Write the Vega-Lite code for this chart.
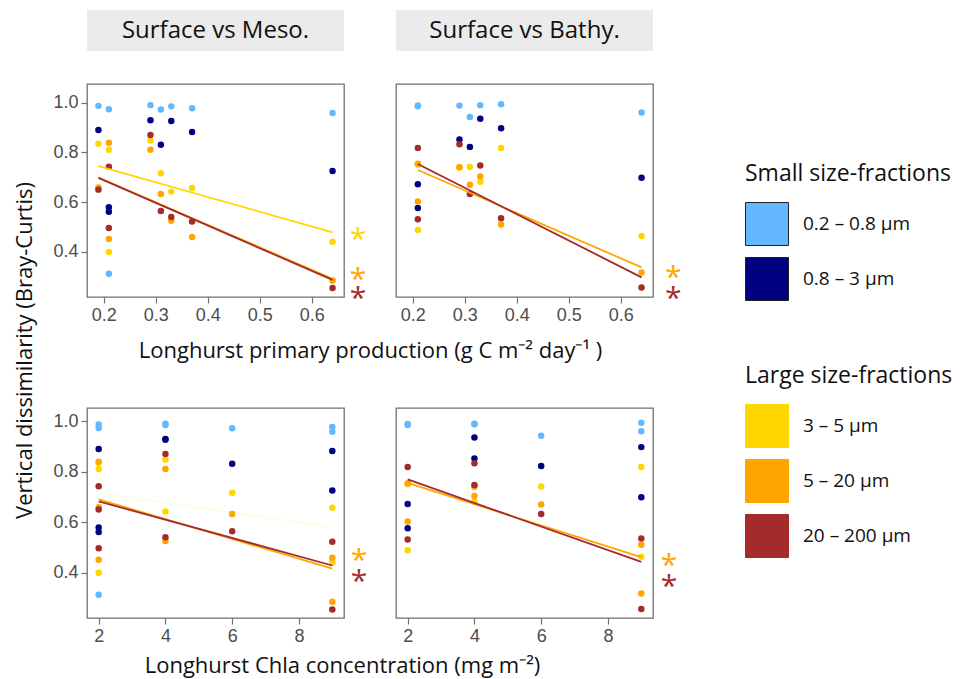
{
  "$schema": "https://vega.github.io/schema/vega-lite/v6.json",
  "padding": {"left": 12, "top": 10, "right": 5, "bottom": 5},
  "background": "white",
  "datasets": {
    "meso": [
      {"pp": 0.19, "chla": 2, "frac": "0.2 – 0.8 µm", "grp": "S", "v": 0.987},
      {"pp": 0.21, "chla": 2, "frac": "0.2 – 0.8 µm", "grp": "S", "v": 0.973},
      {"pp": 0.21, "chla": 2, "frac": "0.2 – 0.8 µm", "grp": "S", "v": 0.312},
      {"pp": 0.29, "chla": 4, "frac": "0.2 – 0.8 µm", "grp": "S", "v": 0.99},
      {"pp": 0.31, "chla": 6, "frac": "0.2 – 0.8 µm", "grp": "S", "v": 0.972},
      {"pp": 0.33, "chla": 4, "frac": "0.2 – 0.8 µm", "grp": "S", "v": 0.985},
      {"pp": 0.37, "chla": 9, "frac": "0.2 – 0.8 µm", "grp": "S", "v": 0.977},
      {"pp": 0.64, "chla": 9, "frac": "0.2 – 0.8 µm", "grp": "S", "v": 0.958},
      {"pp": 0.19, "chla": 2, "frac": "0.8 – 3 µm", "grp": "S", "v": 0.89},
      {"pp": 0.21, "chla": 2, "frac": "0.8 – 3 µm", "grp": "S", "v": 0.579},
      {"pp": 0.21, "chla": 2, "frac": "0.8 – 3 µm", "grp": "S", "v": 0.561},
      {"pp": 0.29, "chla": 4, "frac": "0.8 – 3 µm", "grp": "S", "v": 0.929},
      {"pp": 0.31, "chla": 6, "frac": "0.8 – 3 µm", "grp": "S", "v": 0.831},
      {"pp": 0.33, "chla": 4, "frac": "0.8 – 3 µm", "grp": "S", "v": 0.926},
      {"pp": 0.37, "chla": 9, "frac": "0.8 – 3 µm", "grp": "S", "v": 0.882},
      {"pp": 0.64, "chla": 9, "frac": "0.8 – 3 µm", "grp": "S", "v": 0.725},
      {"pp": 0.19, "chla": 2, "frac": "3 – 5 µm", "grp": "L", "v": 0.835},
      {"pp": 0.21, "chla": 2, "frac": "3 – 5 µm", "grp": "L", "v": 0.81},
      {"pp": 0.21, "chla": 2, "frac": "3 – 5 µm", "grp": "L", "v": 0.399},
      {"pp": 0.29, "chla": 4, "frac": "3 – 5 µm", "grp": "L", "v": 0.848},
      {"pp": 0.31, "chla": 6, "frac": "3 – 5 µm", "grp": "L", "v": 0.716},
      {"pp": 0.33, "chla": 4, "frac": "3 – 5 µm", "grp": "L", "v": 0.642},
      {"pp": 0.37, "chla": 9, "frac": "3 – 5 µm", "grp": "L", "v": 0.657},
      {"pp": 0.64, "chla": 9, "frac": "3 – 5 µm", "grp": "L", "v": 0.44},
      {"pp": 0.19, "chla": 2, "frac": "5 – 20 µm", "grp": "L", "v": 0.659},
      {"pp": 0.21, "chla": 2, "frac": "5 – 20 µm", "grp": "L", "v": 0.839},
      {"pp": 0.21, "chla": 2, "frac": "5 – 20 µm", "grp": "L", "v": 0.451},
      {"pp": 0.29, "chla": 4, "frac": "5 – 20 µm", "grp": "L", "v": 0.81},
      {"pp": 0.31, "chla": 6, "frac": "5 – 20 µm", "grp": "L", "v": 0.632},
      {"pp": 0.33, "chla": 4, "frac": "5 – 20 µm", "grp": "L", "v": 0.525},
      {"pp": 0.37, "chla": 9, "frac": "5 – 20 µm", "grp": "L", "v": 0.459},
      {"pp": 0.64, "chla": 9, "frac": "5 – 20 µm", "grp": "L", "v": 0.284},
      {"pp": 0.19, "chla": 2, "frac": "20 – 200 µm", "grp": "L", "v": 0.65},
      {"pp": 0.21, "chla": 2, "frac": "20 – 200 µm", "grp": "L", "v": 0.742},
      {"pp": 0.21, "chla": 2, "frac": "20 – 200 µm", "grp": "L", "v": 0.496},
      {"pp": 0.29, "chla": 4, "frac": "20 – 200 µm", "grp": "L", "v": 0.87},
      {"pp": 0.31, "chla": 6, "frac": "20 – 200 µm", "grp": "L", "v": 0.564},
      {"pp": 0.33, "chla": 4, "frac": "20 – 200 µm", "grp": "L", "v": 0.54},
      {"pp": 0.37, "chla": 9, "frac": "20 – 200 µm", "grp": "L", "v": 0.522},
      {"pp": 0.64, "chla": 9, "frac": "20 – 200 µm", "grp": "L", "v": 0.254}
    ],
    "bathy": [
      {"pp": 0.21, "chla": 2, "frac": "0.2 – 0.8 µm", "grp": "S", "v": 0.989},
      {"pp": 0.21, "chla": 2, "frac": "0.2 – 0.8 µm", "grp": "S", "v": 0.985},
      {"pp": 0.29, "chla": 4, "frac": "0.2 – 0.8 µm", "grp": "S", "v": 0.988},
      {"pp": 0.31, "chla": 6, "frac": "0.2 – 0.8 µm", "grp": "S", "v": 0.942},
      {"pp": 0.33, "chla": 4, "frac": "0.2 – 0.8 µm", "grp": "S", "v": 0.99},
      {"pp": 0.37, "chla": 9, "frac": "0.2 – 0.8 µm", "grp": "S", "v": 0.994},
      {"pp": 0.64, "chla": 9, "frac": "0.2 – 0.8 µm", "grp": "S", "v": 0.96},
      {"pp": 0.21, "chla": 2, "frac": "0.8 – 3 µm", "grp": "S", "v": 0.672},
      {"pp": 0.21, "chla": 2, "frac": "0.8 – 3 µm", "grp": "S", "v": 0.576},
      {"pp": 0.29, "chla": 4, "frac": "0.8 – 3 µm", "grp": "S", "v": 0.852},
      {"pp": 0.31, "chla": 6, "frac": "0.8 – 3 µm", "grp": "S", "v": 0.822},
      {"pp": 0.33, "chla": 4, "frac": "0.8 – 3 µm", "grp": "S", "v": 0.935},
      {"pp": 0.37, "chla": 9, "frac": "0.8 – 3 µm", "grp": "S", "v": 0.897},
      {"pp": 0.64, "chla": 9, "frac": "0.8 – 3 µm", "grp": "S", "v": 0.698},
      {"pp": 0.21, "chla": 2, "frac": "3 – 5 µm", "grp": "L", "v": 0.488},
      {"pp": 0.21, "chla": 2, "frac": "3 – 5 µm", "grp": "L", "v": 0.75},
      {"pp": 0.29, "chla": 4, "frac": "3 – 5 µm", "grp": "L", "v": 0.74},
      {"pp": 0.31, "chla": 6, "frac": "3 – 5 µm", "grp": "L", "v": 0.741},
      {"pp": 0.33, "chla": 4, "frac": "3 – 5 µm", "grp": "L", "v": 0.682},
      {"pp": 0.37, "chla": 9, "frac": "3 – 5 µm", "grp": "L", "v": 0.818},
      {"pp": 0.64, "chla": 9, "frac": "3 – 5 µm", "grp": "L", "v": 0.463},
      {"pp": 0.21, "chla": 2, "frac": "5 – 20 µm", "grp": "L", "v": 0.754},
      {"pp": 0.21, "chla": 2, "frac": "5 – 20 µm", "grp": "L", "v": 0.602},
      {"pp": 0.29, "chla": 4, "frac": "5 – 20 µm", "grp": "L", "v": 0.74},
      {"pp": 0.31, "chla": 6, "frac": "5 – 20 µm", "grp": "L", "v": 0.67},
      {"pp": 0.33, "chla": 4, "frac": "5 – 20 µm", "grp": "L", "v": 0.703},
      {"pp": 0.37, "chla": 9, "frac": "5 – 20 µm", "grp": "L", "v": 0.51},
      {"pp": 0.64, "chla": 9, "frac": "5 – 20 µm", "grp": "L", "v": 0.317},
      {"pp": 0.21, "chla": 2, "frac": "20 – 200 µm", "grp": "L", "v": 0.818},
      {"pp": 0.21, "chla": 2, "frac": "20 – 200 µm", "grp": "L", "v": 0.531},
      {"pp": 0.29, "chla": 4, "frac": "20 – 200 µm", "grp": "L", "v": 0.833},
      {"pp": 0.31, "chla": 6, "frac": "20 – 200 µm", "grp": "L", "v": 0.632},
      {"pp": 0.33, "chla": 4, "frac": "20 – 200 µm", "grp": "L", "v": 0.747},
      {"pp": 0.37, "chla": 9, "frac": "20 – 200 µm", "grp": "L", "v": 0.535},
      {"pp": 0.64, "chla": 9, "frac": "20 – 200 µm", "grp": "L", "v": 0.256}
    ],
    "fits": [
      {"panel": "TL", "frac": "3 – 5 µm", "sig": "yes", "pp": 0.19, "v": 0.745},
      {"panel": "TL", "frac": "3 – 5 µm", "sig": "yes", "pp": 0.64, "v": 0.478},
      {"panel": "TL", "frac": "5 – 20 µm", "sig": "yes", "pp": 0.19, "v": 0.699},
      {"panel": "TL", "frac": "5 – 20 µm", "sig": "yes", "pp": 0.64, "v": 0.291},
      {"panel": "TL", "frac": "20 – 200 µm", "sig": "yes", "pp": 0.19, "v": 0.697},
      {"panel": "TL", "frac": "20 – 200 µm", "sig": "yes", "pp": 0.64, "v": 0.287},
      {"panel": "TR", "frac": "5 – 20 µm", "sig": "yes", "pp": 0.21, "v": 0.729},
      {"panel": "TR", "frac": "5 – 20 µm", "sig": "yes", "pp": 0.64, "v": 0.337},
      {"panel": "TR", "frac": "20 – 200 µm", "sig": "yes", "pp": 0.21, "v": 0.753},
      {"panel": "TR", "frac": "20 – 200 µm", "sig": "yes", "pp": 0.64, "v": 0.297},
      {"panel": "BL", "frac": "3 – 5 µm", "sig": "no", "chla": 2, "v": 0.715},
      {"panel": "BL", "frac": "3 – 5 µm", "sig": "no", "chla": 9, "v": 0.58},
      {"panel": "BL", "frac": "5 – 20 µm", "sig": "yes", "chla": 2, "v": 0.69},
      {"panel": "BL", "frac": "5 – 20 µm", "sig": "yes", "chla": 9, "v": 0.416},
      {"panel": "BL", "frac": "20 – 200 µm", "sig": "yes", "chla": 2, "v": 0.682},
      {"panel": "BL", "frac": "20 – 200 µm", "sig": "yes", "chla": 9, "v": 0.428},
      {"panel": "BR", "frac": "5 – 20 µm", "sig": "yes", "chla": 2, "v": 0.755},
      {"panel": "BR", "frac": "5 – 20 µm", "sig": "yes", "chla": 9, "v": 0.461},
      {"panel": "BR", "frac": "20 – 200 µm", "sig": "yes", "chla": 2, "v": 0.769},
      {"panel": "BR", "frac": "20 – 200 µm", "sig": "yes", "chla": 9, "v": 0.442}
    ],
    "stars": [
      {"panel": "TL", "frac": "3 – 5 µm", "pp": 0.689, "v": 0.472},
      {"panel": "TL", "frac": "5 – 20 µm", "pp": 0.689, "v": 0.311},
      {"panel": "TL", "frac": "20 – 200 µm", "pp": 0.689, "v": 0.234},
      {"panel": "TR", "frac": "5 – 20 µm", "pp": 0.701, "v": 0.318},
      {"panel": "TR", "frac": "20 – 200 µm", "pp": 0.701, "v": 0.233},
      {"panel": "BL", "frac": "5 – 20 µm", "chla": 9.8, "v": 0.47},
      {"panel": "BL", "frac": "20 – 200 µm", "chla": 9.8, "v": 0.388},
      {"panel": "BR", "frac": "5 – 20 µm", "chla": 9.83, "v": 0.45},
      {"panel": "BR", "frac": "20 – 200 µm", "chla": 9.83, "v": 0.368}
    ]
  },
  "bounds": "flush",
  "columns": 2,
  "spacing": {"row": 33, "column": 52},
  "concat": [
    {
      "width": 257, "height": 41,
      "view": {"fill": "#EBEBEB", "stroke": null},
      "data": {"values": [{"label": "Surface vs Meso."}]},
      "mark": {"type": "text", "font": "Open Sans", "fontSize": 24, "color": "#111111"},
      "encoding": {"text": {"field": "label"}}
    },
    {
      "width": 257, "height": 41,
      "view": {"fill": "#EBEBEB", "stroke": null},
      "data": {"values": [{"label": "Surface vs Bathy."}]},
      "mark": {"type": "text", "font": "Open Sans", "fontSize": 24, "color": "#111111"},
      "encoding": {"text": {"field": "label"}}
    },
    {
      "width": 257, "height": 213,
      "layer": [
        {
          "data": {"name": "meso"},
          "transform": [{"filter": "datum.grp == 'S'"}],
          "mark": {"type": "circle", "size": 42, "opacity": 1},
          "encoding": {
            "x": {"field": "pp", "type": "quantitative", "scale": {"domain": [0.168, 0.662], "nice": false, "zero": false}, "axis": {"values": [0.2, 0.3, 0.4, 0.5, 0.6], "format": ".1f", "title": "Longhurst primary production (g C m⁻² day⁻¹ )", "titleX": 283, "titleY": 60, "titleBaseline": "alphabetic"}},
            "y": {"field": "v", "type": "quantitative", "scale": {"domain": [0.218, 1.075], "nice": false, "zero": false}, "axis": {"values": [0.4, 0.6, 0.8, 1.0], "format": ".1f", "title": "Vertical dissimilarity (Bray-Curtis)", "titleX": -51, "titleY": 266}},
            "color": {"field": "frac", "type": "nominal", "scale": {"domain": ["0.2 – 0.8 µm", "0.8 – 3 µm"], "range": ["#63B8FF", "#000080"]}, "legend": {"title": "Small size-fractions", "orient": "none", "legendX": 658, "legendY": 153}}
          }
        },
        {
          "data": {"name": "meso"},
          "transform": [{"filter": "datum.grp == 'L'"}],
          "mark": {"type": "circle", "size": 42, "opacity": 1},
          "encoding": {
            "x": {"field": "pp", "type": "quantitative"},
            "y": {"field": "v", "type": "quantitative"},
            "fill": {"field": "frac", "type": "nominal", "scale": {"domain": ["3 – 5 µm", "5 – 20 µm", "20 – 200 µm"], "range": ["#FFD700", "#FFA500", "#A52A2A"]}, "legend": {"title": "Large size-fractions", "orient": "none", "legendX": 658, "legendY": 355}}
          }
        },
        {
          "data": {"name": "fits"},
          "transform": [{"filter": "datum.panel == 'TL'"}],
          "mark": {"type": "line", "strokeWidth": 1.8},
          "encoding": {
            "x": {"field": "pp", "type": "quantitative"},
            "y": {"field": "v", "type": "quantitative"},
            "stroke": {"field": "frac", "type": "nominal", "scale": {"domain": ["3 – 5 µm", "5 – 20 µm", "20 – 200 µm"], "range": ["#FFD700", "#FFA500", "#A52A2A"]}, "legend": null},
            "opacity": {"field": "sig", "type": "nominal", "scale": {"domain": ["no", "yes"], "range": [0.1, 1]}, "legend": null}
          }
        },
        {
          "data": {"name": "stars"},
          "transform": [{"filter": "datum.panel == 'TL'"}],
          "mark": {"type": "text", "text": "*", "font": "Open Sans", "fontSize": 30, "baseline": "alphabetic", "dy": 15},
          "encoding": {
            "x": {"field": "pp", "type": "quantitative"},
            "y": {"field": "v", "type": "quantitative"},
            "fill": {"field": "frac", "type": "nominal", "scale": {"domain": ["3 – 5 µm", "5 – 20 µm", "20 – 200 µm"], "range": ["#FFD700", "#FFA500", "#A52A2A"]}, "legend": {"title": "Large size-fractions", "orient": "none", "legendX": 658, "legendY": 355}}
          }
        }
      ]
    },
    {
      "width": 257, "height": 213,
      "layer": [
        {
          "data": {"name": "bathy"},
          "transform": [{"filter": "datum.grp == 'S'"}],
          "mark": {"type": "circle", "size": 42, "opacity": 1},
          "encoding": {
            "x": {"field": "pp", "type": "quantitative", "scale": {"domain": [0.168, 0.662], "nice": false, "zero": false}, "axis": {"values": [0.2, 0.3, 0.4, 0.5, 0.6], "format": ".1f", "title": null}},
            "y": {"field": "v", "type": "quantitative", "scale": {"domain": [0.218, 1.075], "nice": false, "zero": false}, "axis": null},
            "color": {"field": "frac", "type": "nominal", "scale": {"domain": ["0.2 – 0.8 µm", "0.8 – 3 µm"], "range": ["#63B8FF", "#000080"]}, "legend": {"title": "Small size-fractions", "orient": "none", "legendX": 658, "legendY": 153}}
          }
        },
        {
          "data": {"name": "bathy"},
          "transform": [{"filter": "datum.grp == 'L'"}],
          "mark": {"type": "circle", "size": 42, "opacity": 1},
          "encoding": {
            "x": {"field": "pp", "type": "quantitative"},
            "y": {"field": "v", "type": "quantitative"},
            "fill": {"field": "frac", "type": "nominal", "scale": {"domain": ["3 – 5 µm", "5 – 20 µm", "20 – 200 µm"], "range": ["#FFD700", "#FFA500", "#A52A2A"]}, "legend": {"title": "Large size-fractions", "orient": "none", "legendX": 658, "legendY": 355}}
          }
        },
        {
          "data": {"name": "fits"},
          "transform": [{"filter": "datum.panel == 'TR'"}],
          "mark": {"type": "line", "strokeWidth": 1.8},
          "encoding": {
            "x": {"field": "pp", "type": "quantitative"},
            "y": {"field": "v", "type": "quantitative"},
            "stroke": {"field": "frac", "type": "nominal", "scale": {"domain": ["3 – 5 µm", "5 – 20 µm", "20 – 200 µm"], "range": ["#FFD700", "#FFA500", "#A52A2A"]}, "legend": null},
            "opacity": {"field": "sig", "type": "nominal", "scale": {"domain": ["no", "yes"], "range": [0.1, 1]}, "legend": null}
          }
        },
        {
          "data": {"name": "stars"},
          "transform": [{"filter": "datum.panel == 'TR'"}],
          "mark": {"type": "text", "text": "*", "font": "Open Sans", "fontSize": 30, "baseline": "alphabetic", "dy": 15},
          "encoding": {
            "x": {"field": "pp", "type": "quantitative"},
            "y": {"field": "v", "type": "quantitative"},
            "fill": {"field": "frac", "type": "nominal", "scale": {"domain": ["3 – 5 µm", "5 – 20 µm", "20 – 200 µm"], "range": ["#FFD700", "#FFA500", "#A52A2A"]}, "legend": {"title": "Large size-fractions", "orient": "none", "legendX": 658, "legendY": 355}}
          }
        }
      ]
    },
    {
      "width": 257, "height": 45,
      "view": {"stroke": null},
      "data": {"values": [{"label": ""}]},
      "mark": {"type": "text"},
      "encoding": {"text": {"field": "label"}}
    },
    {
      "width": 257, "height": 45,
      "view": {"stroke": null},
      "data": {"values": [{"label": ""}]},
      "mark": {"type": "text"},
      "encoding": {"text": {"field": "label"}}
    },
    {
      "width": 257, "height": 210,
      "layer": [
        {
          "data": {"name": "meso"},
          "transform": [{"filter": "datum.grp == 'S'"}],
          "mark": {"type": "circle", "size": 42, "opacity": 1},
          "encoding": {
            "x": {"field": "chla", "type": "quantitative", "scale": {"domain": [1.65, 9.35], "nice": false, "zero": false}, "axis": {"values": [2, 4, 6, 8], "title": "Longhurst Chla concentration (mg m⁻²)", "titleX": 255, "titleY": 54, "titleBaseline": "alphabetic"}},
            "y": {"field": "v", "type": "quantitative", "scale": {"domain": [0.22, 1.052], "nice": false, "zero": false}, "axis": {"values": [0.4, 0.6, 0.8, 1.0], "format": ".1f", "title": null}},
            "color": {"field": "frac", "type": "nominal", "scale": {"domain": ["0.2 – 0.8 µm", "0.8 – 3 µm"], "range": ["#63B8FF", "#000080"]}, "legend": {"title": "Small size-fractions", "orient": "none", "legendX": 658, "legendY": 153}}
          }
        },
        {
          "data": {"name": "meso"},
          "transform": [{"filter": "datum.grp == 'L'"}],
          "mark": {"type": "circle", "size": 42, "opacity": 1},
          "encoding": {
            "x": {"field": "chla", "type": "quantitative"},
            "y": {"field": "v", "type": "quantitative"},
            "fill": {"field": "frac", "type": "nominal", "scale": {"domain": ["3 – 5 µm", "5 – 20 µm", "20 – 200 µm"], "range": ["#FFD700", "#FFA500", "#A52A2A"]}, "legend": {"title": "Large size-fractions", "orient": "none", "legendX": 658, "legendY": 355}}
          }
        },
        {
          "data": {"name": "fits"},
          "transform": [{"filter": "datum.panel == 'BL'"}],
          "mark": {"type": "line", "strokeWidth": 1.8},
          "encoding": {
            "x": {"field": "chla", "type": "quantitative"},
            "y": {"field": "v", "type": "quantitative"},
            "stroke": {"field": "frac", "type": "nominal", "scale": {"domain": ["3 – 5 µm", "5 – 20 µm", "20 – 200 µm"], "range": ["#FFD700", "#FFA500", "#A52A2A"]}, "legend": null},
            "opacity": {"field": "sig", "type": "nominal", "scale": {"domain": ["no", "yes"], "range": [0.1, 1]}, "legend": null}
          }
        },
        {
          "data": {"name": "stars"},
          "transform": [{"filter": "datum.panel == 'BL'"}],
          "mark": {"type": "text", "text": "*", "font": "Open Sans", "fontSize": 30, "baseline": "alphabetic", "dy": 15},
          "encoding": {
            "x": {"field": "chla", "type": "quantitative"},
            "y": {"field": "v", "type": "quantitative"},
            "fill": {"field": "frac", "type": "nominal", "scale": {"domain": ["3 – 5 µm", "5 – 20 µm", "20 – 200 µm"], "range": ["#FFD700", "#FFA500", "#A52A2A"]}, "legend": {"title": "Large size-fractions", "orient": "none", "legendX": 658, "legendY": 355}}
          }
        }
      ]
    },
    {
      "width": 257, "height": 210,
      "layer": [
        {
          "data": {"name": "bathy"},
          "transform": [{"filter": "datum.grp == 'S'"}],
          "mark": {"type": "circle", "size": 42, "opacity": 1},
          "encoding": {
            "x": {"field": "chla", "type": "quantitative", "scale": {"domain": [1.65, 9.35], "nice": false, "zero": false}, "axis": {"values": [2, 4, 6, 8], "title": null}},
            "y": {"field": "v", "type": "quantitative", "scale": {"domain": [0.22, 1.052], "nice": false, "zero": false}, "axis": null},
            "color": {"field": "frac", "type": "nominal", "scale": {"domain": ["0.2 – 0.8 µm", "0.8 – 3 µm"], "range": ["#63B8FF", "#000080"]}, "legend": {"title": "Small size-fractions", "orient": "none", "legendX": 658, "legendY": 153}}
          }
        },
        {
          "data": {"name": "bathy"},
          "transform": [{"filter": "datum.grp == 'L'"}],
          "mark": {"type": "circle", "size": 42, "opacity": 1},
          "encoding": {
            "x": {"field": "chla", "type": "quantitative"},
            "y": {"field": "v", "type": "quantitative"},
            "fill": {"field": "frac", "type": "nominal", "scale": {"domain": ["3 – 5 µm", "5 – 20 µm", "20 – 200 µm"], "range": ["#FFD700", "#FFA500", "#A52A2A"]}, "legend": {"title": "Large size-fractions", "orient": "none", "legendX": 658, "legendY": 355}}
          }
        },
        {
          "data": {"name": "fits"},
          "transform": [{"filter": "datum.panel == 'BR'"}],
          "mark": {"type": "line", "strokeWidth": 1.8},
          "encoding": {
            "x": {"field": "chla", "type": "quantitative"},
            "y": {"field": "v", "type": "quantitative"},
            "stroke": {"field": "frac", "type": "nominal", "scale": {"domain": ["3 – 5 µm", "5 – 20 µm", "20 – 200 µm"], "range": ["#FFD700", "#FFA500", "#A52A2A"]}, "legend": null},
            "opacity": {"field": "sig", "type": "nominal", "scale": {"domain": ["no", "yes"], "range": [0.1, 1]}, "legend": null}
          }
        },
        {
          "data": {"name": "stars"},
          "transform": [{"filter": "datum.panel == 'BR'"}],
          "mark": {"type": "text", "text": "*", "font": "Open Sans", "fontSize": 30, "baseline": "alphabetic", "dy": 15},
          "encoding": {
            "x": {"field": "chla", "type": "quantitative"},
            "y": {"field": "v", "type": "quantitative"},
            "fill": {"field": "frac", "type": "nominal", "scale": {"domain": ["3 – 5 µm", "5 – 20 µm", "20 – 200 µm"], "range": ["#FFD700", "#FFA500", "#A52A2A"]}, "legend": {"title": "Large size-fractions", "orient": "none", "legendX": 658, "legendY": 355}}
          }
        }
      ]
    }
  ],
  "config": {
    "view": {"stroke": "#707070", "strokeWidth": 1.3},
    "axis": {
      "domain": false, "grid": false,
      "tickColor": "#707070", "tickSize": 6, "tickWidth": 1.2,
      "labelFont": "Liberation Sans", "labelFontSize": 18, "labelColor": "#4D4D4D", "labelPadding": 3,
      "titleFont": "Open Sans", "titleFontSize": 22, "titleFontWeight": "normal", "titleColor": "#111111"
    },
    "legend": {
      "titleFont": "Open Sans", "titleFontSize": 23, "titleFontWeight": "normal", "titleColor": "#111111", "titlePadding": 16, "titleLimit": 400,
      "labelFont": "Open Sans", "labelFontSize": 19, "labelColor": "#111111", "labelOffset": 14, "labelLimit": 300,
      "symbolType": "square", "symbolSize": 1849, "symbolStrokeColor": "#222222", "symbolStrokeWidth": 1, "symbolOpacity": 1,
      "rowPadding": 7
    }
  }
}
